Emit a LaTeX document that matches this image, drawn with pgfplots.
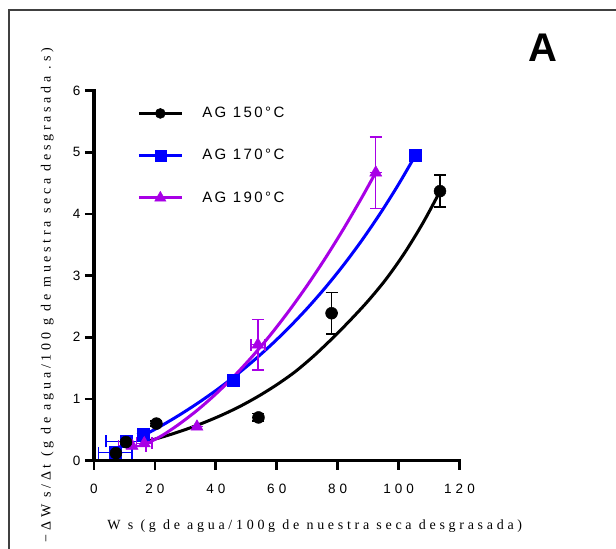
\documentclass[border=0pt]{standalone}
\usepackage{fontspec}
\usepackage{pgfplots}
\pgfplotsset{compat=1.18}
\usepackage{pgfplotstable}
\setmainfont{Liberation Sans}
\newfontfamily\serifls[LetterSpace=26.5]{Liberation Serif}
\newfontfamily\sansls[LetterSpace=30]{Liberation Sans}
\newfontfamily\legls[LetterSpace=16]{Liberation Sans}
\newfontfamily\sansA{Liberation Sans}
\definecolor{pblue}{RGB}{0,0,255}
\definecolor{ppurple}{RGB}{168,0,230}

\pgfplotstableread{
x y ex ey
7.2 0.12 0 0
10.5 0.30 0 0
20.5 0.60 0 0.04
54.0 0.70 0 0.06
78.0 2.39 0 0.34
113.6 4.37 0 0.26
}\tblack
\pgfplotstableread{
x y ex ey
7.0 0.13 5.5 0
10.5 0.31 6.5 0
16.0 0.43 0 0
45.6 1.30 0 0
105.6 4.96 0 0
}\tblue
\pgfplotstableread{
x y ex ey
12.5 0.24 4.5 0
16.5 0.28 2.5 0
33.8 0.55 0 0
53.8 1.88 2.3 0.41
92.5 4.67 0 0.58
}\tpurple

\begin{document}
\begin{tikzpicture}[x=1pt,y=1pt]
\path[use as bounding box] (0,0) rectangle (616,549);
\draw[line width=1.2pt, black!75] (9,0) -- (9,539) -- (616,539);
\node[anchor=base, inner sep=0pt, font=\sansA\bfseries\fontsize{40}{40}\selectfont] at (543,487) {A};
\begin{axis}[
  at={(94pt,88.4pt)}, anchor=south west,
  scale only axis, width=365.5pt, height=370pt,
  xmin=0, xmax=120, ymin=0, ymax=6,
  clip=false,
  axis lines*=left,
  axis line style={line width=3.2pt, line cap=rect},
  tick style={line width=2.8pt, black},
  major tick length=9pt,
  tick align=outside,
  xtick={0,20,...,120}, ytick={0,1,...,6},
  /pgf/number format/assume math mode=true,
  tick label style={font=\sansls\fontsize{13.5}{15}\selectfont},
  xticklabel style={yshift=-11pt},
  yticklabel style={xshift=-1pt},
  xlabel={W s (g de agua/100g de nuestra seca desgrasada)},
  xlabel style={font=\serifls\fontsize{14}{16}\selectfont, at={(axis description cs:0.604,-0.178)}, anchor=center},
  ylabel={−ΔW s/Δt (g de agua/100 g de muestra seca desgrasada .s)},
  ylabel style={font=\serifls\fontsize{14}{16}\selectfont, at={(axis description cs:-0.128,0.447)}, anchor=center, rotate=0},
  legend image code/.code={\draw[#1, mark repeat=2, mark phase=2] plot coordinates {(0pt,0pt) (21.5pt,0pt) (43pt,0pt)};},
  legend style={at={(axis description cs:0.118,0.955)}, anchor=north west, draw=none, fill=none, inner sep=0pt,
    row sep=30pt, column sep=19pt, font=\legls\fontsize{15}{17}\selectfont, nodes={inner sep=0pt}},
  legend cell align=left,
]
% fitted curves
\addplot[black, line width=3pt, smooth, forget plot] coordinates {
(17,0.306) (24,0.406) (30,0.503) (36,0.614) (42,0.739) (48,0.881) (54,1.045) (60,1.23) (66,1.44) (72,1.69)
(78,1.97) (84,2.27) (90,2.59) (96,2.95) (102,3.37) (108,3.854) (113.6,4.366)};
\addplot[pblue, line width=3pt, smooth, forget plot] coordinates {
(16,0.400) (22,0.562) (28,0.738) (34,0.929) (40,1.136) (46,1.360) (52,1.604) (58,1.869) (64,2.157) (70,2.469)
(76,2.808) (82,3.176) (88,3.576) (94,4.010) (100,4.481) (105.6,4.957)};
\addplot[ppurple, line width=3pt, smooth, forget plot] coordinates {
(16.5,0.26) (22,0.396) (28,0.593) (34,0.821) (40,1.080) (46,1.370) (52,1.691) (58,2.043) (64,2.427) (70,2.841)
(76,3.287) (82,3.764) (88,4.272) (92.5,4.673)};
% data points
\addplot[only marks, mark=square*, pblue, mark size=6pt, forget plot,
  error bars/.cd, x dir=both, x explicit, y dir=both, y explicit,
  error bar style={line width=1.5pt, pblue},
  error mark options={rotate=90, mark size=6pt, line width=1.5pt, pblue}]
  table[x=x, y=y, x error=ex, y error=ey] {\tblue};
\addplot[only marks, mark=triangle*, ppurple, mark size=7pt, forget plot,
  error bars/.cd, x dir=both, x explicit, y dir=both, y explicit,
  error bar style={line width=1.5pt, ppurple},
  error mark options={rotate=90, mark size=6pt, line width=1.5pt, ppurple}]
  table[x=x, y=y, x error=ex, y error=ey] {\tpurple};
\addplot[only marks, mark=*, black, mark size=6pt, forget plot,
  error bars/.cd, x dir=both, x explicit, y dir=both, y explicit,
  error bar style={line width=1.5pt, black},
  error mark options={rotate=90, mark size=6pt, line width=1.5pt, black}]
  table[x=x, y=y, x error=ex, y error=ey] {\tblack};
% legend
\addlegendimage{black, line width=3pt, mark=*, mark size=5pt, mark options={line width=0.5pt}}
\addlegendentry{AG 150°C}
\addlegendimage{pblue, line width=3pt, mark=square*, mark size=5.5pt, mark options={line width=0.5pt}}
\addlegendentry{AG 170°C}
\addlegendimage{ppurple, line width=3pt, mark=triangle*, mark size=6.5pt, mark options={line width=0.5pt}}
\addlegendentry{AG 190°C}
\end{axis}
\end{tikzpicture}
\end{document}
